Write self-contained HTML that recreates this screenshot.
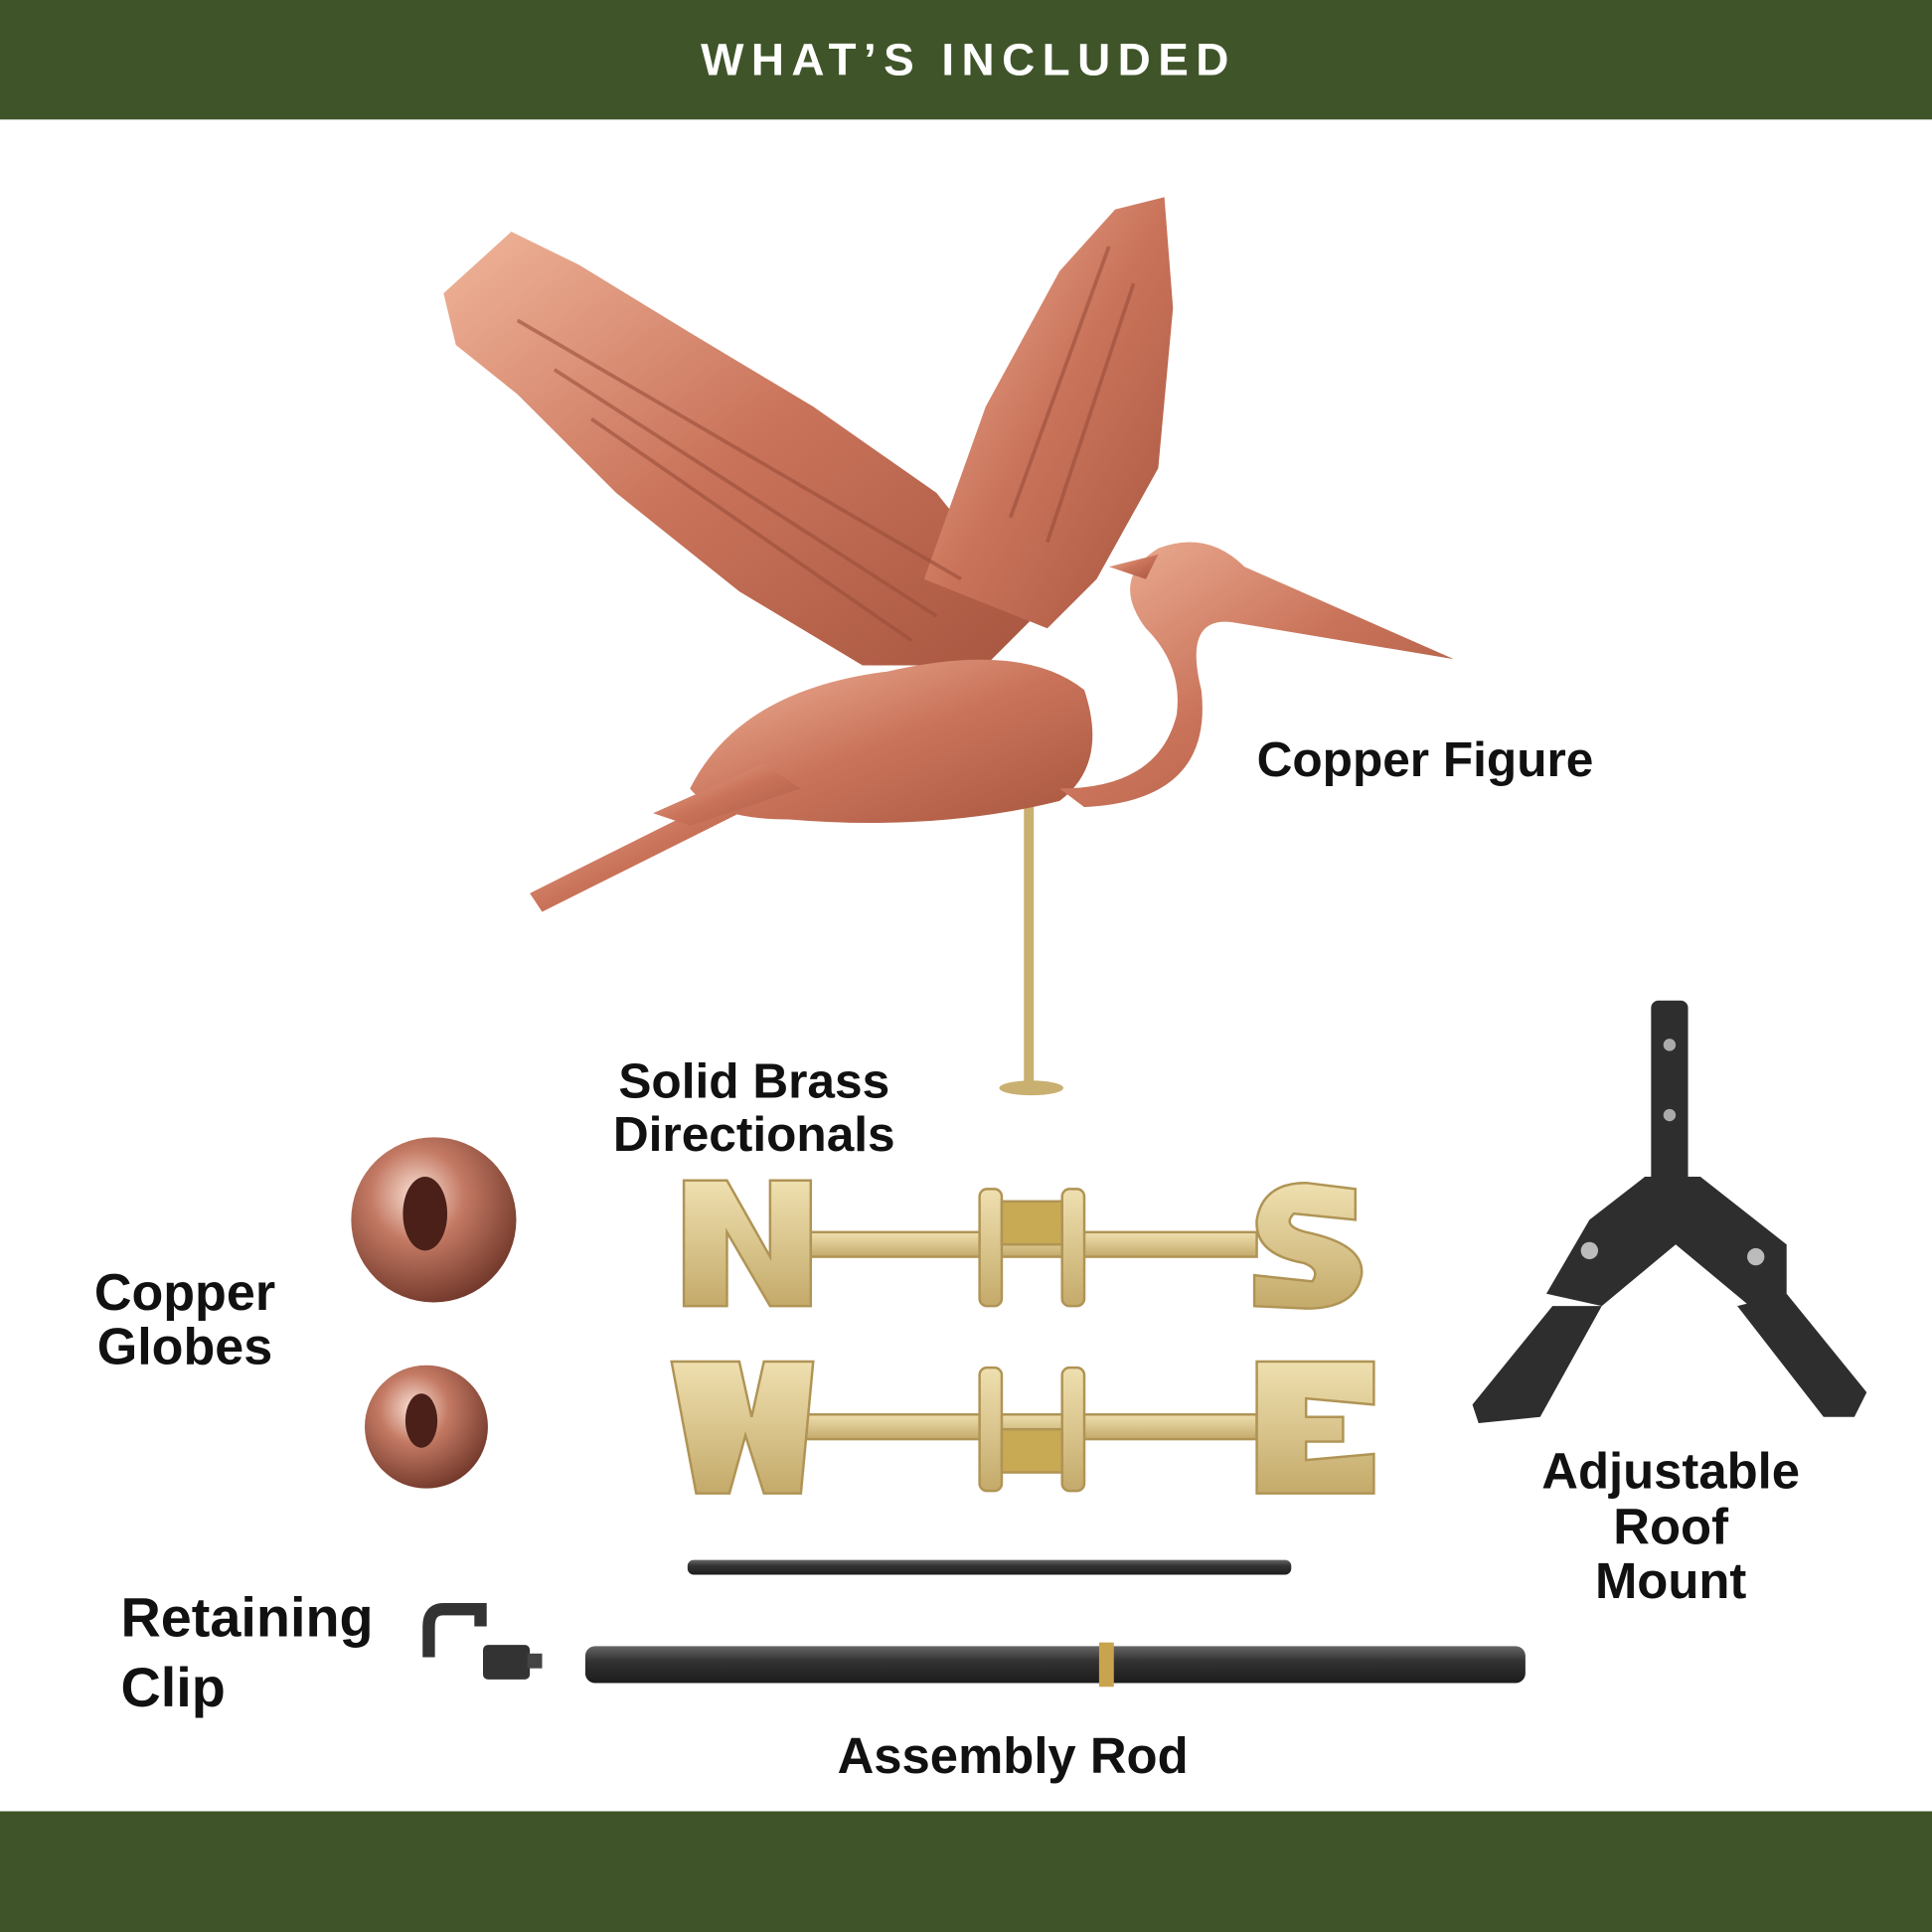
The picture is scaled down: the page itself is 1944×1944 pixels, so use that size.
<!DOCTYPE html>
<html><head><meta charset="utf-8"><style>
html,body{margin:0;padding:0;background:#fff;}
svg{display:block}
</style></head><body>
<svg width="1944" height="1944" viewBox="0 0 1568 1568" xmlns="http://www.w3.org/2000/svg">
<defs>
<linearGradient id="cu" x1="0" y1="0" x2="1" y2="1">
<stop offset="0" stop-color="#f0b59a"/><stop offset="0.5" stop-color="#c9735a"/><stop offset="1" stop-color="#a85640"/>
</linearGradient>
<radialGradient id="gl" cx="0.4" cy="0.35" r="0.7">
<stop offset="0" stop-color="#fbe3d8"/><stop offset="0.4" stop-color="#c47a64"/><stop offset="1" stop-color="#6e3528"/>
</radialGradient>
<linearGradient id="br" x1="0" y1="0" x2="0" y2="1">
<stop offset="0" stop-color="#efe0b0"/><stop offset="1" stop-color="#c4aa6a"/>
</linearGradient>
<linearGradient id="rod" x1="0" y1="0" x2="0" y2="1">
<stop offset="0" stop-color="#666"/><stop offset="0.4" stop-color="#333"/><stop offset="1" stop-color="#1c1c1c"/>
</linearGradient>
</defs>
<rect x="0" y="0" width="1568" height="97" fill="#3f5529"/>
<rect x="0" y="1470" width="1568" height="98" fill="#3f5529"/>
<text x="786" y="61" text-anchor="middle" fill="#fff" font-family="Liberation Sans, sans-serif" font-weight="bold" font-size="37" letter-spacing="6">WHAT’S INCLUDED</text>

<!-- heron -->
<rect x="831" y="625" width="8" height="255" fill="#c9b070"/>
<ellipse cx="837" cy="883" rx="26" ry="6" fill="#c9b070"/>
<path d="M360,238 L415,188 L470,215 L560,270 L660,330 L760,400 L840,500 L800,540 L700,540 L600,480 L500,400 L420,320 L370,280 Z" fill="url(#cu)"/>
<path d="M750,470 L800,330 L860,220 L905,170 L945,160 L952,250 L940,380 L890,470 L850,510 Z" fill="url(#cu)"/>
<path d="M560,640 Q600,560 720,545 Q830,520 880,560 Q900,620 860,650 Q760,675 640,665 Q580,665 560,640 Z" fill="url(#cu)"/>
<path d="M860,640 Q940,640 955,580 Q960,540 930,510 Q900,470 940,445 Q980,430 1010,460 L1180,535 L1000,505 Q960,500 975,560 Q985,650 880,655 Z" fill="url(#cu)"/>
<path d="M900,460 L940,450 L930,470 Z" fill="url(#cu)"/>
<path d="M620,650 L480,720 L440,740 L430,725 L470,705 L600,640 Z" fill="url(#cu)"/>
<path d="M530,660 L620,620 L650,640 L560,670 Z" fill="url(#cu)"/>
<g fill="none" stroke="#9a4e3a" stroke-width="3" opacity="0.6">
<path d="M420,260 L780,470"/><path d="M450,300 L760,500"/><path d="M480,340 L740,520"/>
<path d="M900,200 L820,420"/><path d="M920,230 L850,440"/>
</g>

<!-- directionals -->
<g fill="url(#br)" stroke="#b09455" stroke-width="2">
<rect x="650" y="1000" width="370" height="20"/>
<rect x="795" y="965" width="18" height="95" rx="6"/>
<rect x="862" y="965" width="18" height="95" rx="6"/>
<rect x="813" y="975" width="49" height="35" fill="#c8aa55"/>
<path d="M555,958 L590,958 L625,1020 L625,958 L658,958 L658,1060 L625,1060 L590,1000 L590,1060 L555,1060 Z"/>
<path d="M1100,965 L1100,990 L1050,985 Q1040,995 1060,1000 Q1108,1010 1105,1035 Q1100,1062 1060,1062 L1018,1060 L1018,1035 L1065,1040 Q1072,1030 1058,1025 Q1018,1018 1020,990 Q1025,960 1060,960 Z"/>
<rect x="650" y="1148" width="370" height="20"/>
<rect x="795" y="1110" width="18" height="100" rx="6"/>
<rect x="862" y="1110" width="18" height="100" rx="6"/>
<rect x="813" y="1160" width="49" height="35" fill="#c8aa55"/>
<path d="M545,1105 L600,1105 L610,1150 L620,1105 L660,1105 L650,1212 L620,1212 L605,1165 L592,1212 L565,1212 Z"/>
<path d="M1020,1105 L1115,1105 L1115,1140 L1060,1135 L1060,1150 L1090,1150 L1090,1170 L1060,1170 L1060,1185 L1115,1180 L1115,1212 L1020,1212 Z"/>
</g>

<!-- globes -->
<circle cx="352" cy="990" r="67" fill="url(#gl)"/>
<ellipse cx="345" cy="985" rx="18" ry="30" fill="#4a2019"/>
<circle cx="346" cy="1158" r="50" fill="url(#gl)"/>
<ellipse cx="342" cy="1153" rx="13" ry="22" fill="#4a2019"/>

<!-- rods -->
<rect x="558" y="1266" width="490" height="12" rx="5" fill="url(#rod)"/>
<rect x="475" y="1336" width="763" height="30" rx="8" fill="url(#rod)"/>
<rect x="892" y="1333" width="12" height="36" fill="#c9a44e"/>

<!-- clip -->
<path d="M390,1320 L390,1306 L360,1306 Q348,1306 348,1320 L348,1345" fill="none" stroke="#333" stroke-width="10"/>
<rect x="392" y="1335" width="38" height="28" rx="4" fill="#333"/>
<rect x="428" y="1342" width="12" height="12" fill="#444"/>

<!-- roof mount -->
<g fill="#2e2e2e">
<rect x="1340" y="812" width="30" height="175" rx="6"/>
<path d="M1335,955 L1380,955 L1450,1010 L1450,1050 L1420,1060 L1360,1010 L1300,1060 L1255,1050 L1290,990 Z"/>
<path d="M1260,1060 L1300,1060 L1250,1150 L1200,1155 L1195,1140 Z"/>
<path d="M1410,1060 L1450,1050 L1515,1130 L1505,1150 L1480,1150 Z"/>
</g>
<circle cx="1355" cy="848" r="5" fill="#aaa"/><circle cx="1355" cy="905" r="5" fill="#aaa"/>
<circle cx="1290" cy="1015" r="7" fill="#bbb"/><circle cx="1425" cy="1020" r="7" fill="#bbb"/>

<g font-family="Liberation Sans, sans-serif" font-weight="bold" fill="#111">
<text x="1020" y="630" font-size="40">Copper Figure</text>
<text x="612" y="891" font-size="40" text-anchor="middle">Solid Brass</text>
<text x="612" y="934" font-size="40" text-anchor="middle">Directionals</text>
<text x="150" y="1063" font-size="42" text-anchor="middle">Copper</text>
<text x="150" y="1107" font-size="42" text-anchor="middle">Globes</text>
<text x="1356" y="1208" font-size="41" text-anchor="middle">Adjustable</text>
<text x="1356" y="1253" font-size="41" text-anchor="middle">Roof</text>
<text x="1356" y="1297" font-size="41" text-anchor="middle">Mount</text>
<text x="98" y="1328" font-size="45">Retaining</text>
<text x="98" y="1385" font-size="45">Clip</text>
<text x="822" y="1439" font-size="41" text-anchor="middle">Assembly Rod</text>
</g>
</svg>
</body></html>
